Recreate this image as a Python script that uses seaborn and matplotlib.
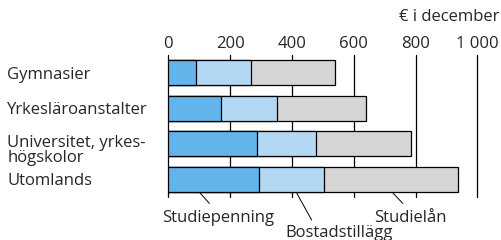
import pandas as pd
import seaborn as sns
import matplotlib.pyplot as plt
import matplotlib.transforms as mtransforms
import numpy as np

# Data (euro per month, December)
categories = ["Gymnasier", "Yrkesläroanstalter", "Universitet, yrkes-\nhögskolor", "Utomlands"]
studiepenning = [90, 172, 288, 295]
bostadstillagg = [177, 181, 190, 208]
studielan = [273, 288, 306, 436]
xticks = [0, 200, 400, 600, 800, 1000]
xticklabels = ["0", "200", "400", "600", "800", "1 000"]

colors = {"Studiepenning": "#62b4ea", "Bostadstillägg": "#b3d8f4", "Studielån": "#d5d5d5"}

sns.set_style("white")
plt.rcParams['font.family'] = ['Open Sans', 'DejaVu Sans']
FS = 12

df = pd.DataFrame({"cat": categories,
                   "s1": studiepenning,
                   "s2": np.add(studiepenning, bostadstillagg),
                   "s3": np.add(np.add(studiepenning, bostadstillagg), studielan)})

fig = plt.figure(figsize=(5.01, 2.40), dpi=100)
ax = fig.add_axes([168.3 / 501, 1 - 197 / 240, 309 / 501, 142 / 240])

# vertical grid lines behind bars
for t in xticks:
    ax.axvline(t, color="black", lw=0.9, zorder=0, clip_on=False)

# stacked bars: draw cumulative totals, largest first
for col, name in [("s3", "Studielån"), ("s2", "Bostadstillägg"), ("s1", "Studiepenning")]:
    sns.barplot(data=df, x=col, y="cat", color=colors[name], orient="h", width=0.7,
                edgecolor="black", linewidth=0.9, saturation=1, ax=ax, zorder=2)

ax.set_xlim(0, 1000)
ax.set_ylim(3.5, -0.5)
sns.despine(ax=ax, left=True, bottom=True, top=True, right=True)
ax.set_xlabel("")
ax.set_ylabel("")
ax.xaxis.tick_top()
ax.set_xticks(xticks)
ax.set_xticklabels(xticklabels, fontsize=FS)
ax.tick_params(axis="x", length=0, pad=2)
ax.tick_params(axis="y", length=0, pad=116)
for lab in ax.get_yticklabels():
    lab.set_horizontalalignment("left")
    lab.set_fontsize(FS)
    lab.set_linespacing(0.9)
    if "\n" in lab.get_text():
        # two-line label sits a bit lower in the original
        lab.set_transform(lab.get_transform() +
                          mtransforms.ScaledTranslation(0, -5 / 100, fig.dpi_scale_trans))

fig.text(499 / 501, 1 - 21 / 240, "€ i december", ha="right", va="baseline", fontsize=FS)

# series labels with leader lines
labels = [("Studiepenning", 102, 3.38, 133, 3.68, 163, 4.20),
          ("Bostadstillägg", 415, 3.38, 464, 4.15, 553, 4.64),
          ("Studielån", 726, 3.38, 759, 3.68, 783, 4.20)]
for text, x0, y0, x1, y1, tx, ty in labels:
    ax.plot([x0, x1], [y0, y1], color="black", lw=0.7, clip_on=False)
    ax.text(tx, ty, text, ha="center", va="baseline", fontsize=FS, clip_on=False)

fig.savefig("out.png", dpi=100)
